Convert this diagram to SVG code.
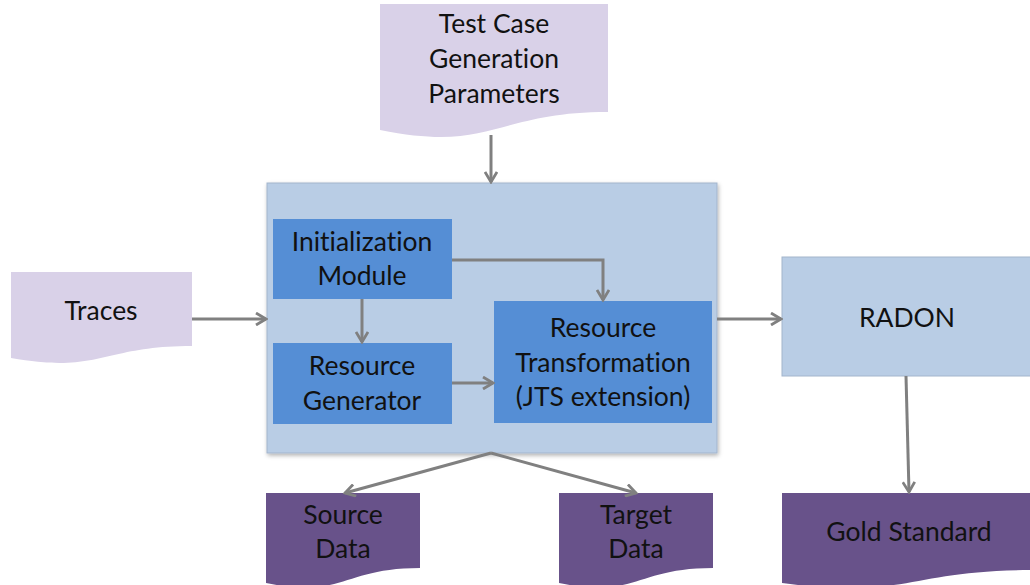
<svg xmlns="http://www.w3.org/2000/svg" width="1030" height="585" viewBox="0 0 1030 585">
<style>
.t{font-family:Lato,"Open Sans","Liberation Sans",sans-serif;font-size:26.5px;fill:#111;text-anchor:middle;font-variant-ligatures:none}
.doc1{fill:#d9d1e8}
.doc2{fill:#68528a}
.lb{fill:#b9cde5;stroke:#a3b5cc;stroke-width:1}
.mb{fill:#558ed5}
.c{fill:none;stroke:#808080;stroke-width:3}
</style>
<defs>
<marker id="ah" viewBox="0 0 14 14" refX="12" refY="7" markerWidth="14" markerHeight="14" markerUnits="userSpaceOnUse" orient="auto">
<path d="M2,1 L12,7 L2,13" fill="none" stroke="#808080" stroke-width="2.8"/>
</marker>
<filter id="sh" x="-5%" y="-5%" width="110%" height="115%">
<feDropShadow dx="1" dy="2" stdDeviation="2" flood-color="#000" flood-opacity="0.3"/>
</filter>
</defs>
<g id="test-case-params">
<path class="doc1" d="M380,4 H608 V112 C494,112 494,153 380,130 Z"/>
<text class="t" x="494" y="33">Test Case</text>
<text class="t" x="494" y="68">Generation</text>
<text class="t" x="494" y="103">Parameters</text>
</g>
<g id="traces">
<path class="doc1" d="M11,272 H192 V346 C101,346 101,374 11,358 Z"/>
<text class="t" x="101" y="320">Traces</text>
</g>
<g id="main">
<rect class="lb" x="267" y="183" width="450" height="270" filter="url(#sh)"/>
</g>
<g id="init">
<rect class="mb" x="273" y="219" width="179" height="80"/>
<text class="t" x="362" y="251">Initialization</text>
<text class="t" x="362" y="285">Module</text>
</g>
<g id="generator">
<rect class="mb" x="273" y="343" width="179" height="81"/>
<text class="t" x="362" y="375">Resource</text>
<text class="t" x="362" y="410">Generator</text>
</g>
<g id="transformation">
<rect class="mb" x="494" y="301" width="218" height="122"/>
<text class="t" x="603" y="337">Resource</text>
<text class="t" x="603" y="372">Transformation</text>
<text class="t" x="603" y="406">(JTS extension)</text>
</g>
<g id="radon">
<rect class="lb" x="782" y="257" width="250" height="119"/>
<text class="t" x="907" y="327">RADON</text>
</g>
<g id="source">
<path class="doc2" d="M266,493 H420 V568 C343,568 343,599 266,583 Z"/>
<text class="t" x="343" y="524">Source</text>
<text class="t" x="343" y="558">Data</text>
</g>
<g id="target">
<path class="doc2" d="M559,493 H713 V568 C636,568 636,599 559,583 Z"/>
<text class="t" x="636" y="524">Target</text>
<text class="t" x="636" y="558">Data</text>
</g>
<g id="gold">
<path class="doc2" d="M782,493 H1032 V570 C907,570 907,600 782,583 Z"/>
<text class="t" x="909" y="541">Gold Standard</text>
</g>
<g id="connectors">
<path class="c" d="M491,135 V182" marker-end="url(#ah)"/>
<path class="c" d="M192,319 H266" marker-end="url(#ah)"/>
<path class="c" d="M452,260 H603 V300" marker-end="url(#ah)"/>
<path class="c" d="M362,299 V342" marker-end="url(#ah)"/>
<path class="c" d="M452,383 H493" marker-end="url(#ah)"/>
<path class="c" d="M717,319 H781" marker-end="url(#ah)"/>
<path class="c" d="M906,376 L909,492" marker-end="url(#ah)"/>
<path class="c" d="M491,453 L345,493" marker-end="url(#ah)"/>
<path class="c" d="M491,453 L636,493" marker-end="url(#ah)"/>
</g>
</svg>
